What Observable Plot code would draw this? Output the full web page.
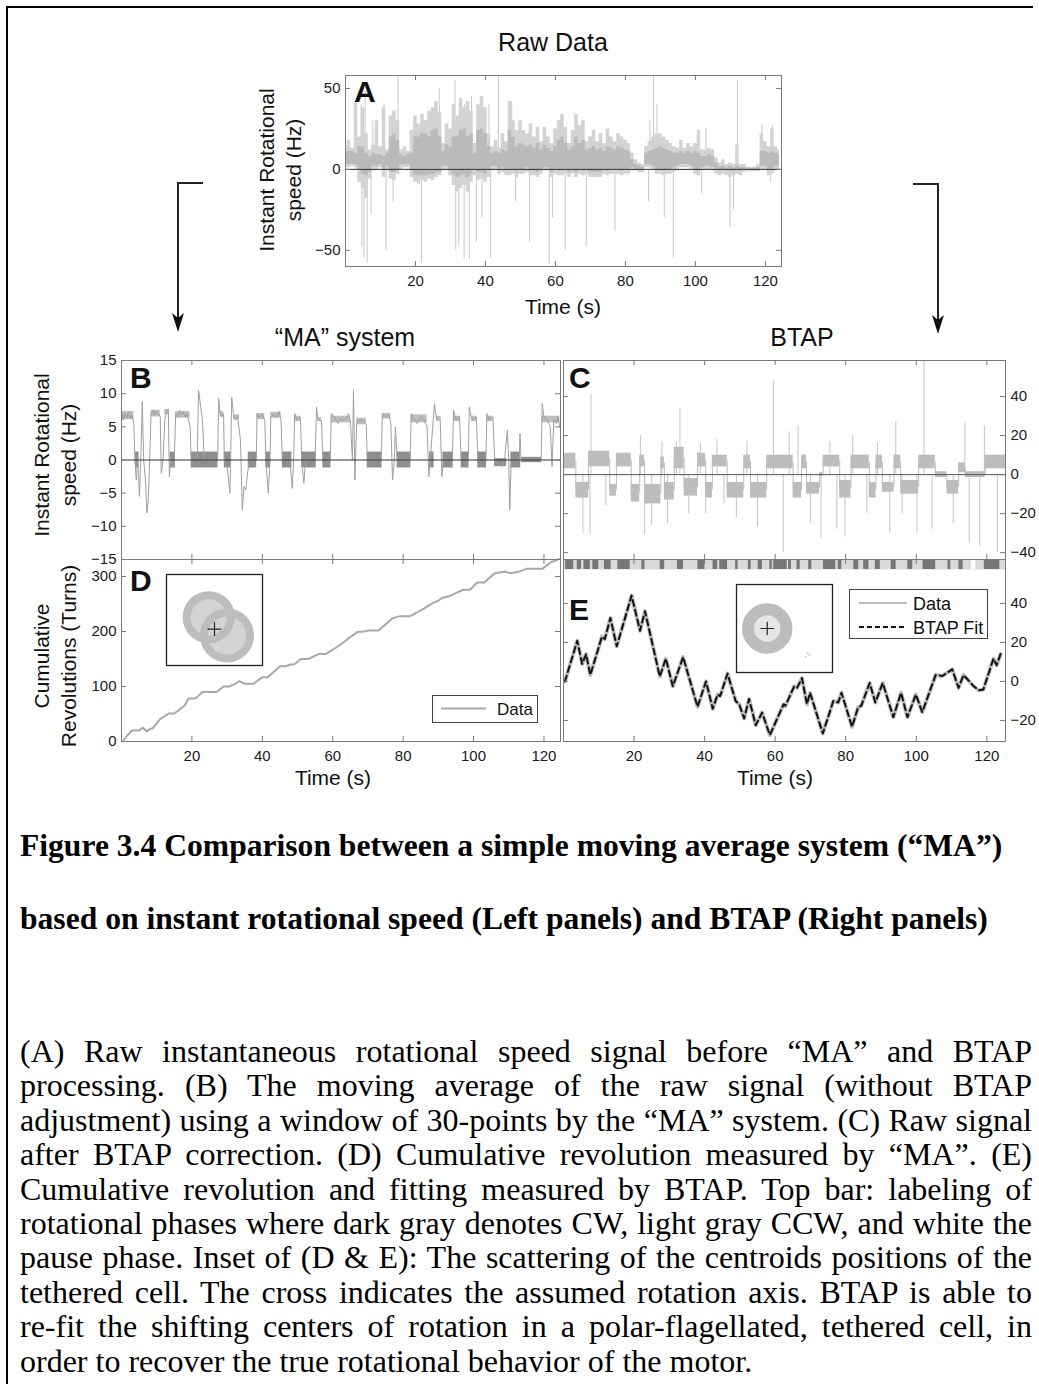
<!DOCTYPE html>
<html><head><meta charset="utf-8">
<script src="https://cdn.jsdelivr.net/npm/d3@7"></script>
<script src="https://cdn.jsdelivr.net/npm/@observablehq/plot@0.6"></script>
<style>
body{margin:0;background:#fff;}
#page{position:relative;width:1039px;height:1384px;overflow:hidden;background:#fff;}
.capT{position:absolute;left:20px;white-space:nowrap;font-family:"Liberation Serif","Times New Roman",serif;font-weight:bold;font-size:31.6px;line-height:40px;color:#000;}
.capB{position:absolute;left:20px;width:1012px;white-space:nowrap;font-family:"Liberation Serif","Times New Roman",serif;font-size:32px;line-height:34.4px;color:#000;text-align:justify;text-align-last:justify;}
.capB.last{text-align:left;text-align-last:left;}
</style></head><body><div id="page"></div>
<script>
// ---------------- DATA ----------------
const xTicks = [20, 40, 60, 80, 100, 120];
const aYTicks = [-50, 0, 50];
const bYTicks = [-15, -10, -5, 0, 5, 10, 15];
const cYTicks = [-40, -20, 0, 20, 40];
const dYTicks = [0, 100, 200, 300];
const eYTicks = [-20, 0, 20, 40];

// Panel A: raw signal, per-second dense core, outer fuzz envelope, isolated spikes
const aT = [0,1,2,3,4,5,6,7,8,9,10,11,12,13,14,15,16,17,18,19,20,21,22,23,24,25,26,27,28,29,30,31,32,33,34,35,36,37,38,39,40,41,42,43,44,45,46,47,48,49,50,51,52,53,54,55,56,57,58,59,60,61,62,63,64,65,66,67,68,69,70,71,72,73,74,75,76,77,78,79,80,81,82,83,84,85,86,87,88,89,90,91,92,93,94,95,96,97,98,99,100,101,102,103,104,105,106,107,108,109,110,111,112,113,114,115,116,117,118,119,120,121,122,123,124];
const aCoreLo = [3,3,3,3,0,-3,-4,-2,2,2, 3,0,2,-2,-2,0,3,3,3,0, -4,-4,-4,-4,-3,-3,-2,-2,2,2, 0,-3,-5,-4,-3,-5,-3,0,-2,-2, -3,0,2,2,0,1,-1,-1,0,-1, 0,0,1,-1,-1,-2,0,1,1,-2, 0,-1,-1,0,-2,0,-2,0,-1,0, -2,-2,-2,-2,0,-1,0,0,0,-1, 0,0,1,0,0,0,3,3,2,0, 0,-1,0,0,1,2,3,3,3,2, 0,-1,1,2,2,1,0,-1,0,-1, -1,-1,0,-1,0,-0.5,-0.5,-0.5,-0.5,2, 2,0,0,2,2];
const aCoreHi = [10,11,11,10,14,14,10,8,10,9, 9,8,10,20,22,18,9,8,9,10, 20,20,22,22,20,24,25,20,11,15, 14,20,20,24,25,20,22,10,24,25, 22,14,10,11,10,12,11,24,20,14, 16,15,14,15,13,16,12,15,13,11, 14,18,20,16,12,14,20,16,18,12, 13,14,12,13,11,14,13,12,14,13, 12,11,6,3,2,1.5,10,11,12,13, 14,13,12,11,10,10,11,10,11,10, 11,10,8,8,9,8,4,1.5,2,1, 2,1,2,1,1,0.5,0.5,0.5,1,11, 11,10,11,10,9];
const aLo = [2,1,2,1,-8,-12,-18,-6,-1,0, 1,-5,-1,-6,-7,-3,0,1,1,-5, -8,-9,-7,-8,-6,-7,-5,-4,-1,0, -4,-10,-14,-12,-10,-14,-8,-4,-7,-6, -8,-5,-1,0,-3,-2,-4,-4,-3,-5, -3,-3,-2,-4,-4,-5,-3,-1,-1,-5, -3,-4,-4,-3,-5,-3,-5,-3,-4,-3, -5,-5,-5,-5,-3,-4,-3,-3,-3,-4, -3,-3,-1,-1,-2,-2,1,1,0,-3, -3,-4,-3,-3,-2,-1,1,1,1,0, -3,-4,-1,0,0,-1,-3,-4,-3,-4, -5,-4,-3,-4,-2,-1.5,-1.5,-1.5,-1.5,0, 0,-4,-3,-1,0];
const aHi = [14,18,13,42,20,38,22,12,15,30, 14,38,12,33,36,30,12,14,11,24, 33,28,34,30,36,38,42,35,16,28, 25,40,33,44,38,42,36,16,40,45, 38,22,14,18,13,22,17,42,30,24, 30,24,22,28,20,26,17,26,20,16, 25,30,34,26,16,24,34,27,30,17, 20,24,17,22,16,25,20,17,22,20, 18,16,10,6,4,3,14,17,20,22, 22,20,18,16,14,13,18,13,16,14, 16,24,12,12,13,12,7,4,6,3, 4,3,15,3,3,1.5,1.5,1.5,3,22, 17,14,25,14,12];
const aSpikeT = [3,4.5,4.7,5.3,5.6,6.2,7.3,7.8,11,11.6,13.6,15,19.5,21.7,26.8,31.3,31.5,32.4,33.9,34,35.4,36,37.4,39,41,41.5,43.7,47.5,48.6,52.6,58.2,59.2,61.7,62.8,67.8,68.8,77,86.6,87,88,89,91.1,93.7,101.8,103,109.9,110.9,112,119,121.5,122];
const aSpikeV = [42,40,-48,-55,48,-58,-28,30,40,-50,-20,58,30,-58,50,55,-50,-48,-55,40,-56,45,-45,-30,40,-55,58,42,-20,-45,-58,-30,30,-50,30,-48,-38,-20,30,58,40,-30,-55,-15,25,-36,-25,55,28,-8,27];

// Panel B: "MA" moving average trace
const bT = [0,0.5,1,1.5,2,2.5,3,3.5,3.8,4.2,4.6,5.1,5.5,5.9,6.3,6.8,7.2,7.6,8,8.4,9,9.5,10,10.5,11,11.3,11.8,12.3,12.8,13.3,13.6,14,14.5,15,15.4,16,16.5,17,17.5,18,18.5,19,19.5,19.8,21.5,21.9,22.5,23,23.5,27.3,27.6,28,28.5,29,29.2,30,30.8,31,31.3,31.8,32.3,33,33.8,34.3,34.8,35.3,35.8,36.5,37,38.3,38.5,39,40,40.7,41,41.7,42.2,42.4,43,44,44.8,45.3,45.7,47.8,48.5,48.9,49.2,49.8,50.8,51.2,51.8,52.3,55,55.4,55.8,56.8,57.2,59.3,59.6,60.5,61.5,62,63,64,64.5,65,65.6,65.9,66.3,66.8,67.5,68.5,69.5,69.8,73.8,74.1,75,76,76.5,77,77.5,77.8,78.3,82,82.3,83,84,85,86,86.8,87.3,87.7,88.9,89.5,90.5,91,91.5,94,94.3,95,96,96.5,98.5,98.8,99.5,100.8,101.2,103.5,103.8,104.5,105.5,106,107,108,108.8,109.6,110,110.3,110.7,113,113.2,113.5,119.2,119.5,120,121,121.8,122.3,122.8,123.5,124,124.5];
const bV = [7.5,6,7,6.3,7.2,6.2,6.8,5.5,0,-3,0.5,-5.5,0.5,8.8,0,-3,-8,-6,0,7,7.5,6.8,7.2,7,6.5,-2,0,6,7.5,7.7,-2.5,0.5,-1,0.3,7,6.5,7.5,6.8,7.3,6.5,7,6.2,5,0,0.5,10.5,8,6,0,0,9.3,7,6.5,7,0,-1,-5,0,9.5,7,6,6.5,3,-7.5,-4,-4.5,-2,0.5,0,0,7,6.5,6.8,6,0,-5,0,6.5,6.8,6.5,7.3,6,0,0,-4.3,0,7,6,6.5,0,-3.5,0,0,8,6,6,0,0,7,6.5,5.5,6.2,6,6.3,7,6,0,10.5,-3,5.5,6,6,5.5,0,0,7,6.5,6.8,5.5,-3,0,5,0,0,7,6.2,5.5,6.5,6,5,-2.5,0,8.5,6,6.5,-2.5,0,0,7.5,6,6.5,0,0,8,6,6.5,0,0,7,6,6.5,0,-0.5,-1,0,4.5,0,-7.5,0,0,4,0,0,8.5,6.5,6,5,-1,6,5.5,6.5,5];
const bZeroT0 = [4,13.8,19.8,29.2,36,41,45.7,51.2,57.2,69.8,78.3,87.5,91.3,96.5,101.2,106,110.6,113.6];
const bZeroT1 = [5,15.3,27.4,31,38.4,42.3,48.4,55.3,59.5,74,82.2,88.8,94.2,98.7,103.7,109.4,113.4,119.3];
const bZeroLo = [-1.2,-1.2,-1.2,-1.2,-1.2,-1.2,-1.2,-1.2,-1.2,-1.2,-1.2,-1.2,-1.2,-1.2,-1.2,-1,-1.2,-0.4];
const bZeroHi = [1.2,1.2,1.2,1.2,1.2,1.2,1.2,1.2,1.2,1.2,1.2,1.2,1.2,1.2,1.2,0.2,1.2,0.4];
const bHighT0 = [0,8.4,12.3,15.4,28,31.8,38.5,42.4,49.2,55.8,59.6,66.8,74.1,82.3,89.5,94.3,99.5,103.8,119.5];
const bHighT1 = [3.5,11,13.4,19.5,29,33.5,40.7,45.3,50.8,56.8,65,69.5,76.5,86.8,90.5,96.3,100.8,105.5,124.5];
const bHighLo = [6.1,6.5,6.8,6.3,6.5,6.1,6.1,6.3,5.8,5.8,5.6,5.3,6.2,5.6,5.8,5.8,5.8,5.8,5.6];
const bHighHi = [7.3,7.5,7.6,7.3,7.3,6.8,7,7.2,6.6,6.4,6.6,6.3,7,6.8,6.6,6.6,6.6,6.6,6.6];

// Panel C: BTAP-corrected signal, plateau bands and spikes
const cT0 = [0,3.5,7.1,13.1,15,19.2,21.6,23,27.6,28.6,31.4,34.2,38,40.3,42.2,46.4,51.1,53,57.6,65.1,67.5,68.9,72.6,73.6,78.3,81.5,86.7,88.6,90.4,93.7,95.6,100.7,105.4,108.7,112,113.9,119.5];
const cT1 = [3.5,7.1,13.1,15,19.2,21.6,23,27.6,28.6,31.4,34.2,38,40.3,42.2,46.4,51.1,53,57.6,65.1,67.5,68.9,72.6,73.6,78.3,81.5,86.7,88.6,90.4,93.7,95.6,100.7,105.4,108.7,112,113.9,119.5,125.3];
const cLo = [3,-12,4,-11,4,-14,4,-15,3,-13,3,-11,4,-12,4,-12,3,-12,3,-12,3,-10,-1,4,-12,3,-12,3,-9,3,-10,3,-1.5,-10,1,-1.5,3];
const cHi = [11,-4,12,-5,11,-5,10,-5,9,-4,14,-2,11,-4,10,-4,10,-4,10,-4,10,-4,1,10,-3,10,-4,10,-4,10,-3,10,1.5,-3,6,1.5,10];
const cSpikeT = [5.5,7.5,7.8,12,21.8,23,25,27.9,29.5,32,33,35.5,38.8,40.3,43.5,45.5,49,52,55,59.5,62.3,64,66.5,70,73,75.5,77.5,79.8,82,86,89,92.5,94.2,96,100.2,102.2,104.5,110.5,113.8,115,118,119.3,123];
const cSpikeV = [-30,-31,41,-16,20,-31,-26,17,-25,17,34,-20,16,-20,18,-15,-22,17,-27,48,-40,22,25,-25,-33,17,-28,-32,20,-20,16,-30,27,-20,-30,58,-28,-25,27,-35,-37,25,-40];

// Phase bar (E): CW blocks (dark) and pause blocks (white) over CCW background
const cwT0 = [0.6,3.9,5.8,8.3,11.6,15.4,22.2,27.4,32.3,38.1,42.4,44.3,48.8,52.4,55.2,58.5,59.6,63.8,66.2,69.5,73.7,77.9,82.3,85.1,88.4,92.9,97.6,101.9,109,112.1,119.3];
const cwT1 = [2.9,5.1,7.6,10,13.5,18.9,23.1,28.7,34,40.1,43.7,46.5,49.5,53.2,56.4,59.2,63.4,64.6,67.1,70.4,77.2,78.9,83.7,86.6,89.8,94.3,99,105.5,109.8,113.3,123.7];
const pauseT0 = [115.6];
const pauseT1 = [116.9];

// Panel D: cumulative revolutions, "MA"
const dT = [0.3,1.5,3,5,6,7.2,8,9,11,12,13.5,15,16.5,18,19,21,23,27,29,30.5,32,33.5,35,37.5,40,41.5,43,45,46.5,48,49,51,53,56,58,61,63,65,67,69,70,73,75,77,79,82,84,86,88.5,90,91,93,95,97,99,101,103,105,106,109,110.5,113,115,119.5,122,124.3];
const dV = [0,10,20,20,25,18.5,22,25,41,45,51,51,58,66,78,78,90,90,100,100,104,110,105,105,117,117,125,137,137,140,140,150,150,159,159,171,180,190,199,200,202,202,213,224,228,228,235,242,252,256,261,264,270,276,276,289,289,300,306,309,306,309,314,314,326,332];

// Panel E: cumulative revolutions, BTAP (data and fit)
const eT = [0.4,3.9,5.3,6.4,7.6,10.9,11.7,13.3,15.1,19.3,21.7,23.1,27.3,29,31,33.9,38,40.4,42.3,43.7,44.4,46.5,48.8,49.8,51.2,52.6,54.5,56.3,58.5,62.4,62.9,65.4,66.2,67.6,69,69.9,73.5,76.5,77.9,78.8,81.8,83.5,84.4,86.8,88.4,90.5,93.5,95.7,97.5,99.9,101.7,105.5,107.4,110.2,112,113.4,116.3,117.7,119,121.9,122.8,123.9];
const eV = [0,20.8,9,14,3.3,23,21.7,32.5,18,44,26,36,2.5,11.7,-2.5,12.5,-13,0,-14,-6.7,-7.5,4,-10,-11.7,-19,-9,-22.5,-16,-27.5,-11.7,-12.5,-2.5,-3.3,1.7,-11.7,-5.8,-26.7,-10,-10.8,-5.8,-23.3,-13.3,-12.5,-0.8,-10.8,-0.8,-18.3,-5.8,-18.3,-6.7,-15.8,3.3,2.8,6.2,-3.3,3.3,-2.5,-4.5,-4.2,11.7,8.3,14];

// Insets: centroid scatter rings (x, y, mid radius in % of inset) and rotation axis cross
const dRingX = [44, 63], dRingY = [53, 33], dRingR = [23, 24];
const dCross = [{x: 50, y: 40}];
const eRingX = [32], eRingY = [50], eRingR = [20];
const eCross = [{x: 32, y: 50}];
const eSpeckX = [74, 76, 72], eSpeckY = [22, 20, 18];

// ---------------- DRAWING ----------------
const SANS = '"Liberation Sans", Arial, Helvetica, sans-serif';
const page = document.getElementById("page");
const fmt = d => d < 0 ? "\u2212" + Math.abs(d) : String(d);
const AX = "#7a7a7a";

function panel({box, xDomain, yDomain, yTicks, xLabels, yAnchor, marks}) {
  const [x0, y0, x1, y1] = box;
  const W = x1 - x0, H = y1 - y0;
  const m = {l: 50, r: 50, t: 12, b: 32};
  const chart = Plot.plot({
    width: W + m.l + m.r, height: H + m.t + m.b,
    marginLeft: m.l, marginRight: m.r, marginTop: m.t, marginBottom: m.b,
    style: {fontFamily: SANS, fontSize: "15px", color: "#1a1a1a", background: "transparent", overflow: "visible"},
    x: {domain: xDomain, ticks: xTicks, tickSize: 0, tickPadding: 9, label: null, tickFormat: fmt, axis: xLabels ? "bottom" : null},
    y: {domain: yDomain, ticks: yTicks, tickSize: 0, tickPadding: 5, label: null, tickFormat: fmt, axis: yAnchor},
    marks: [
      ...marks,
      Plot.frame({stroke: AX}),
      Plot.tickX(xTicks, {x: d => d, insetTop: H - 5, stroke: AX}),
      Plot.tickX(xTicks, {x: d => d, insetBottom: H - 5, stroke: AX}),
      Plot.tickY(yTicks, {y: d => d, insetRight: W - 5, stroke: AX}),
      Plot.tickY(yTicks, {y: d => d, insetLeft: W - 5, stroke: AX})
    ]
  });
  chart.style.position = "absolute";
  chart.style.left = (x0 - m.l) + "px";
  chart.style.top = (y0 - m.t) + "px";
  page.appendChild(chart);
  return {W, H};
}

const aRows = aT.map((t, i) => ({t, lo: aLo[i], hi: aHi[i], clo: aCoreLo[i], chi: aCoreHi[i]}));
const aSpikes = aSpikeT.map((t, i) => ({t, v: aSpikeV[i]}));
const bRows = bT.map((t, i) => ({t, v: bV[i]}));
const bZero = bZeroT0.map((t, i) => ({t0: t, t1: bZeroT1[i], lo: bZeroLo[i], hi: bZeroHi[i]}));
const bHigh = bHighT0.map((t, i) => ({t0: t, t1: bHighT1[i], lo: bHighLo[i], hi: bHighHi[i]}));
const cBands = cT0.map((t, i) => ({t0: t, t1: cT1[i], lo: cLo[i], hi: cHi[i]}));
const cSteps = cBands.slice(1).map((b, i) => ({t: b.t0, y1: (cBands[i].lo + cBands[i].hi) / 2, y2: (b.lo + b.hi) / 2}));
const cSpikes = cSpikeT.map((t, i) => ({t, v: cSpikeV[i]}));
const cw = cwT0.map((t, i) => ({t0: t, t1: cwT1[i]}));
const pauses = pauseT0.map((t, i) => ({t0: t, t1: pauseT1[i]}));
const dRows = dT.map((t, i) => ({t, v: dV[i]}));
const eRows = eT.map((t, i) => ({t, v: eV[i]}));

// A
panel({box: [345, 75, 781, 266], xDomain: [0, 124.6], yDomain: [-60, 58], yTicks: aYTicks, xLabels: true, yAnchor: "left",
  marks: [
    Plot.ruleX(aSpikes, {x: "t", y1: 0, y2: "v", stroke: "#c9c9c9", strokeWidth: 1}),
    Plot.areaY(aRows, {x: "t", y1: "lo", y2: "hi", fill: "#d3d3d3", curve: "step"}),
    Plot.areaY(aRows, {x: "t", y1: "clo", y2: "chi", fill: "#bababa", curve: "step"}),
    Plot.ruleY([0], {stroke: "#333", strokeWidth: 1})
  ]});

// B
panel({box: [121, 360, 560, 559], xDomain: [0, 124.7], yDomain: [-15, 15], yTicks: bYTicks, xLabels: false, yAnchor: "left",
  marks: [
    Plot.rect(bHigh, {x1: "t0", x2: "t1", y1: "lo", y2: "hi", fill: "#bdbdbd"}),
    Plot.rect(bZero, {x1: "t0", x2: "t1", y1: "lo", y2: "hi", fill: "#8e8e8e"}),
    Plot.line(bRows, {x: "t", y: "v", stroke: "#a0a0a0", strokeWidth: 1}),
    Plot.ruleY([0], {stroke: "#333", strokeWidth: 1})
  ]});

// D
panel({box: [121, 559, 560, 741], xDomain: [0, 124.7], yDomain: [0, 331], yTicks: dYTicks, xLabels: true, yAnchor: "left",
  marks: [
    Plot.line(dRows, {x: "t", y: "v", stroke: "#a8a8a8", strokeWidth: 2})
  ]});

// C
panel({box: [563, 360, 1005, 559], xDomain: [0, 125.3], yDomain: [-43.5, 58.5], yTicks: cYTicks, xLabels: false, yAnchor: "right",
  marks: [
    Plot.ruleX(cSpikes, {x: "t", y1: 0, y2: "v", stroke: "#c4c4c4", strokeWidth: 1}),
    Plot.ruleX(cSteps, {x: "t", y1: "y1", y2: "y2", stroke: "#bdbdbd", strokeWidth: 1}),
    Plot.rect(cBands, {x1: "t0", x2: "t1", y1: "lo", y2: "hi", fill: "#bdbdbd"}),
    Plot.ruleY([0], {stroke: "#555", strokeWidth: 1})
  ]});

// E
const eH = 741 - 559;
panel({box: [563, 559, 1005, 741], xDomain: [0, 125.3], yDomain: [-30.8, 62.5], yTicks: eYTicks, xLabels: true, yAnchor: "right",
  marks: [
    Plot.frame({fill: "#d9d9d9", stroke: null, insetBottom: eH - 10}),
    Plot.rect(cw, {x1: "t0", x2: "t1", fill: "#767676", insetBottom: eH - 10}),
    Plot.rect(pauses, {x1: "t0", x2: "t1", fill: "#ffffff", insetBottom: eH - 10}),
    Plot.line(eRows, {x: "t", y: "v", stroke: "#bdbdbd", strokeWidth: 4}),
    Plot.line(eRows, {x: "t", y: "v", stroke: "#111", strokeWidth: 2, strokeDasharray: "6,4"})
  ]});

// Insets
function inset(box, ringX, ringY, ringR, ringW, ringFill, cross, speckX, speckY) {
  const [x0, y0, x1, y1] = box;
  const W = x1 - x0, H = y1 - y0;
  const rings = ringX.map((x, i) => ({x, y: ringY[i], r: ringR[i]}));
  const specks = speckX.map((x, i) => ({x, y: speckY[i]}));
  const chart = Plot.plot({
    width: W, height: H, margin: 0,
    style: {background: "#fff", overflow: "visible"},
    x: {domain: [0, 100], axis: null}, y: {domain: [0, 100], axis: null},
    r: {type: "linear", domain: [0, 100], range: [0, W]},
    marks: [
      Plot.dot(rings, {x: "x", y: "y", r: "r", fill: ringFill, stroke: null}),
      Plot.dot(rings, {x: "x", y: "y", r: "r", stroke: "#bdbdbd", strokeWidth: ringW, fill: "none"}),
      Plot.dot(specks, {x: "x", y: "y", r: 1, fill: "#c8c8c8"}),
      Plot.dot(cross, {x: "x", y: "y", symbol: "plus", r: 4.5, stroke: "#222", strokeWidth: 1.2}),
      Plot.frame({stroke: "#222", strokeWidth: 1.3})
    ]
  });
  chart.style.position = "absolute";
  chart.style.left = x0 + "px";
  chart.style.top = y0 + "px";
  page.appendChild(chart);
}
inset([166, 574, 262, 665], dRingX, dRingY, dRingR, 8, "#d4d4d4", dCross, [], []);
inset([736, 584, 832, 672], eRingX, eRingY, eRingR, 12, "#e6e6e6", eCross, eSpeckX, eSpeckY);

// Overlay: titles, labels, arrows, legends, border
const ov = `
<svg width="1039" height="1384" style="position:absolute;left:0;top:0" font-family='${SANS}' fill="#111">
 <line x1="6" y1="7" x2="1033" y2="7" stroke="#000" stroke-width="2"/>
 <line x1="7" y1="6" x2="7" y2="1384" stroke="#000" stroke-width="2"/>
 <text x="553" y="51" font-size="25" text-anchor="middle">Raw Data</text>
 <text x="345" y="346" font-size="25" text-anchor="middle">\u201CMA\u201D system</text>
 <text x="802" y="346" font-size="25" text-anchor="middle">BTAP</text>
 <g font-size="21" text-anchor="middle">
  <text transform="translate(274,170) rotate(-90)">Instant Rotational</text>
  <text transform="translate(301,170) rotate(-90)">speed (Hz)</text>
  <text transform="translate(49,455) rotate(-90)">Instant Rotational</text>
  <text transform="translate(76,455) rotate(-90)">speed (Hz)</text>
  <text transform="translate(49,656) rotate(-90)">Cumulative</text>
  <text transform="translate(76,656) rotate(-90)">Revolutions (Turns)</text>
  <text x="563" y="314">Time (s)</text>
  <text x="333" y="785">Time (s)</text>
  <text x="775" y="785">Time (s)</text>
 </g>
 <g font-size="30" font-weight="bold">
  <text x="354" y="102">A</text>
  <text x="130" y="388">B</text>
  <text x="569" y="388">C</text>
  <text x="130" y="591">D</text>
  <text x="569" y="620">E</text>
 </g>
 <g stroke="#222" stroke-width="2" fill="none">
  <path d="M203,183 H178 V318"/>
  <path d="M913,184 H938 V320"/>
 </g>
 <polygon points="178,332 172,313 178,318 184,313" fill="#111"/>
 <polygon points="938,334 932,315 938,320 944,315" fill="#111"/>
 <rect x="432.5" y="695.5" width="105" height="27" fill="#fff" stroke="#444"/>
 <line x1="441" y1="708.5" x2="486" y2="708.5" stroke="#aaa" stroke-width="2"/>
 <text x="497" y="715" font-size="17">Data</text>
 <rect x="849.5" y="589.5" width="138" height="49" fill="#fff" stroke="#444"/>
 <line x1="859" y1="603" x2="907" y2="603" stroke="#bbb" stroke-width="2"/>
 <text x="913" y="610" font-size="18">Data</text>
 <line x1="859" y1="627" x2="907" y2="627" stroke="#111" stroke-width="2" stroke-dasharray="5,3"/>
 <text x="913" y="634" font-size="18">BTAP Fit</text>
</svg>`;
page.insertAdjacentHTML("beforeend", ov);

// Caption
const capTitle = [
  "Figure 3.4 Comparison between a simple moving average system (\u201CMA\u201D)",
  "based on instant rotational speed (Left panels) and BTAP (Right panels)"
];
const capBody = [
  "(A) Raw instantaneous rotational speed signal before \u201CMA\u201D and BTAP",
  "processing. (B) The moving average of the raw signal (without BTAP",
  "adjustment) using a window of 30-points by the \u201CMA\u201D system. (C) Raw signal",
  "after BTAP correction. (D) Cumulative revolution measured by \u201CMA\u201D. (E)",
  "Cumulative revolution and fitting measured by BTAP. Top bar: labeling of",
  "rotational phases where dark gray denotes CW, light gray CCW, and white the",
  "pause phase. Inset of (D & E): The scattering of the centroids positions of the",
  "tethered cell. The cross indicates the assumed rotation axis. BTAP is able to",
  "re-fit the shifting centers of rotation in a polar-flagellated, tethered cell, in",
  "order to recover the true rotational behavior of the motor."
];
capTitle.forEach((s, i) => {
  const d = document.createElement("div");
  d.className = "capT";
  d.style.top = (826 + i * 73) + "px";
  d.textContent = s;
  page.appendChild(d);
});
capBody.forEach((s, i) => {
  const d = document.createElement("div");
  d.className = "capB" + (i === capBody.length - 1 ? " last" : "");
  d.style.top = (1034 + i * 34.4) + "px";
  d.textContent = s;
  page.appendChild(d);
});
</script></body></html>
